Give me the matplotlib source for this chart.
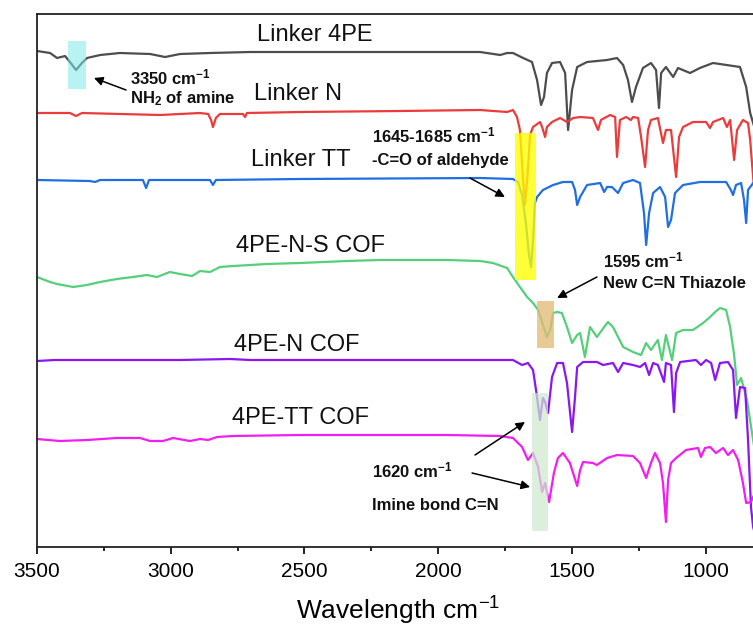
import matplotlib
matplotlib.use("Agg")
import matplotlib.pyplot as plt
from matplotlib.patches import Rectangle

plt.rcParams['font.family'] = ['Liberation Sans', 'DejaVu Sans']
plt.rcParams['mathtext.fontset'] = 'custom'
plt.rcParams['mathtext.rm'] = 'Liberation Sans'
plt.rcParams['mathtext.bf'] = 'Liberation Sans:bold'
plt.rcParams['mathtext.default'] = 'regular'

# ---------------- data (wavenumber cm-1, offset transmittance a.u.) ----------------
w_4pe = [3500, 3451, 3425, 3395, 3377, 3354, 3332, 3313, 3264, 3190, 3077, 3021, 2965, 2853, 2703,
         2217, 1843, 1768, 1742, 1720, 1682, 1649, 1630, 1615, 1604, 1593, 1574, 1544, 1525, 1514,
         1499, 1480, 1443, 1368, 1331, 1308, 1290, 1275, 1260, 1234, 1204, 1185, 1174, 1166, 1148,
         1121, 1103, 1058, 1021, 972, 871, 848, 833, 822, 812]
t_4pe = [496, 494, 489, 491, 485, 477, 484, 489, 492, 494, 493, 490, 493, 494, 495,
         495, 495, 492, 494, 494, 489, 485, 467, 442, 450, 474, 484, 485, 474, 417,
         457, 480, 485, 487, 489, 482, 467, 445, 460, 479, 484, 477, 439, 474, 480,
         470, 479, 474, 479, 484, 480, 460, 434, 424, 415]

w_n = [3500, 3377, 3354, 3332, 3040, 2890, 2860, 2849, 2842, 2831, 2816, 2730, 2722, 2715, 2516,
       2142, 1843, 1742, 1720, 1705, 1694, 1682, 1675, 1667, 1656, 1645, 1619, 1611, 1600, 1593,
       1574, 1544, 1518, 1495, 1469, 1421, 1402, 1391, 1357, 1338, 1331, 1320, 1297, 1279, 1271,
       1252, 1241, 1226, 1215, 1204, 1178, 1159, 1148, 1129, 1110, 1099, 1084, 1047, 998, 983,
       972, 934, 920, 908, 893, 882, 860, 841, 833, 822, 812]
t_n = [434, 434, 431, 434, 432, 434, 433, 427, 420, 429, 433, 433, 430, 434, 435,
       436, 437, 435, 437, 430, 417, 367, 342, 367, 412, 420, 425, 420, 410, 420,
       425, 429, 425, 429, 430, 429, 417, 427, 432, 430, 390, 427, 430, 427, 430,
       429, 410, 380, 417, 427, 429, 404, 417, 417, 370, 410, 420, 425, 425, 419,
       425, 429, 420, 427, 387, 417, 427, 424, 407, 370, 340]

w_tt = [3500, 3302, 3283, 3264, 3104, 3092, 3081, 2853, 2842, 2831, 2516, 1843, 1720, 1701, 1686,
        1671, 1660, 1652, 1645, 1638, 1630, 1608, 1570, 1533, 1499, 1488, 1480, 1469, 1443, 1394,
        1379, 1368, 1350, 1327, 1308, 1271, 1245, 1230, 1222, 1211, 1196, 1170, 1151, 1140, 1129,
        1114, 1084, 1021, 923, 905, 897, 886, 867, 856, 848, 841, 822, 812]
t_tt = [367, 366, 365, 367, 367, 359, 367, 367, 362, 367, 368, 369, 368, 365, 352,
        322, 292, 280, 307, 344, 350, 357, 362, 365, 365, 357, 342, 350, 362, 364,
        355, 360, 360, 354, 364, 367, 364, 334, 302, 334, 354, 360, 350, 320, 327,
        354, 362, 365, 365, 357, 352, 362, 364, 347, 324, 357, 364, 364]

w_nscof = [3500, 3451, 3425, 3365, 3313, 3264, 3201, 3141, 3089, 3051, 3003, 2965, 2920, 2890, 2853,
           2816, 2767, 2640, 2516, 2341, 2217, 1967, 1843, 1795, 1742, 1720, 1694, 1667, 1645, 1626,
           1608, 1593, 1581, 1570, 1555, 1537, 1518, 1499, 1480, 1469, 1451, 1432, 1406, 1387, 1365,
           1346, 1308, 1271, 1241, 1222, 1204, 1178, 1163, 1148, 1125, 1110, 1084, 1047, 1009, 983,
           964, 946, 923, 908, 893, 882, 867, 845, 822, 812]
t_nscof = [270, 265, 263, 260, 262, 265, 268, 270, 272, 270, 275, 273, 271, 276, 275,
           280, 281, 283, 284, 286, 287, 287, 286, 284, 279, 270, 260, 250, 244, 237,
           222, 210, 217, 234, 235, 234, 220, 204, 212, 214, 190, 220, 210, 217, 225,
           220, 200, 195, 192, 204, 197, 207, 187, 212, 187, 214, 217, 217, 224, 230,
           235, 239, 237, 220, 192, 162, 169, 147, 107, 90]

w_ncof = [3500, 3433, 2965, 2778, 2703, 2142, 1720, 1686, 1664, 1645, 1630, 1619, 1608, 1600, 1589,
          1574, 1555, 1533, 1518, 1499, 1488, 1480, 1458, 1406, 1383, 1346, 1327, 1308, 1271, 1245,
          1226, 1211, 1196, 1178, 1155, 1148, 1129, 1118, 1110, 1095, 1036, 1017, 998, 979, 964,
          946, 916, 897, 886, 871, 852, 841, 830, 822, 812]
t_ncof = [186, 187, 187, 188, 187, 187, 187, 182, 184, 177, 150, 127, 149, 145, 134,
          170, 184, 184, 164, 115, 150, 180, 185, 185, 182, 184, 175, 184, 182, 180,
          184, 172, 184, 182, 165, 184, 182, 135, 174, 185, 187, 182, 187, 184, 167,
          184, 185, 177, 129, 160, 159, 107, 40, 20, 10]

w_ttcof = [3500, 3414, 3313, 3201, 3115, 3077, 3029, 2991, 2928, 2890, 2860, 2827, 2767, 2516, 1967,
           1768, 1720, 1686, 1664, 1645, 1626, 1611, 1600, 1585, 1567, 1552, 1533, 1507, 1480, 1469,
           1458, 1421, 1406, 1368, 1331, 1271, 1245, 1222, 1204, 1189, 1170, 1159, 1148, 1140, 1129,
           1110, 1073, 1028, 1017, 1002, 983, 961, 934, 916, 897, 878, 860, 848, 830, 822, 812]
t_ttcof = [108, 106, 107, 109, 109, 106, 106, 109, 106, 108, 107, 110, 111, 112, 112,
           111, 109, 100, 87, 94, 80, 55, 64, 45, 74, 89, 94, 84, 61, 77,
           85, 84, 82, 89, 92, 91, 84, 69, 84, 94, 84, 64, 25, 67, 84,
           89, 97, 99, 90, 99, 100, 94, 99, 92, 97, 87, 64, 44, 45, 50, 55]

series = [
    ("Linker 4PE", w_4pe, t_4pe, "#4d4d4d"),
    ("Linker N", w_n, t_n, "#ec3b3b"),
    ("Linker TT", w_tt, t_tt, "#1f6fe3"),
    ("4PE-N-S COF", w_nscof, t_nscof, "#55cf7a"),
    ("4PE-N COF", w_ncof, t_ncof, "#8a17f2"),
    ("4PE-TT COF", w_ttcof, t_ttcof, "#f01ef0"),
]

# label positions (wavenumber, y)
label_pos = [(2460, 512), (2524, 453), (2513, 387), (2479, 301), (2528, 202), (2516, 129)]

fig = plt.figure(figsize=(7.53, 6.33), dpi=100)
ax = fig.add_axes([37 / 753, 86 / 633, 722 / 753, 533 / 633])

for (name, w, t, c), (lx, ly) in zip(series, label_pos):
    ax.plot(w, t, color=c, lw=1.6, zorder=2)
    ax.text(lx, ly, name, ha='center', va='center', fontsize=17, color='#111111')

# highlight boxes
boxes = [
    (3384, 3317, 458, 506, '#7fe8e8', 0.55),
    (1712, 1634, 267, 414, '#ffff00', 0.78),
    (1630, 1566, 199, 246, '#e2bb78', 0.78),
    (1649, 1589, 16, 154, '#cfe8cf', 0.72),
]
for x0, x1, y0, y1, fc, a in boxes:
    ax.add_patch(Rectangle((x1, y0), x0 - x1, y1 - y0, facecolor=fc, edgecolor='none',
                           alpha=a, zorder=3))

# annotations
bold_texts = [
    (3152, 470, r"3350 cm$^{\mathbf{-1}}$"),
    (3152, 448, r"NH$_{\mathbf{2}}$ of amine"),
    (2247, 412, r"1645-1685 cm$^{\mathbf{-1}}$"),
    (2247, 386, "-C=O of aldehyde"),
    (1383, 287, r"1595 cm$^{\mathbf{-1}}$"),
    (1383, 263, "New C=N Thiazole"),
    (2247, 77, r"1620 cm$^{\mathbf{-1}}$"),
    (2247, 41, "Imine bond C=N"),
]
for x, y, s in bold_texts:
    ax.text(x, y, s, ha='left', va='center', fontsize=12, fontweight='bold', color='#111111', zorder=4)

arrows = [
    ((3167, 457), (3287, 469)),
    ((1881, 369), (1750, 350)),
    ((1406, 270), (1555, 249)),
    ((1862, 92), (1675, 125)),
    ((1873, 74), (1656, 60)),
]
for tail, head in arrows:
    ax.annotate("", xy=head, xytext=tail,
                arrowprops=dict(arrowstyle='-|>', color='black', lw=1.1, mutation_scale=13,
                                shrinkA=0, shrinkB=0), zorder=4)

ax.set_xticks([3500, 3000, 2500, 2000, 1500, 1000])
ax.set_xticks([3250, 2750, 2250, 1750, 1250], minor=True)
ax.set_yticks([])
ax.set_xlim(3500, 800)
ax.set_ylim(0, 533)
ax.tick_params(axis='x', which='major', direction='out', length=5, width=1.2, labelsize=15, pad=6)
ax.tick_params(axis='x', which='minor', direction='out', length=3, width=1.2)
for s in ax.spines.values():
    s.set_linewidth(1.3)
    s.set_color('#222222')
ax.set_xlabel(r"Wavelength cm$^{-1}$", fontsize=19, labelpad=10)

fig.savefig("out.png", dpi=100)
